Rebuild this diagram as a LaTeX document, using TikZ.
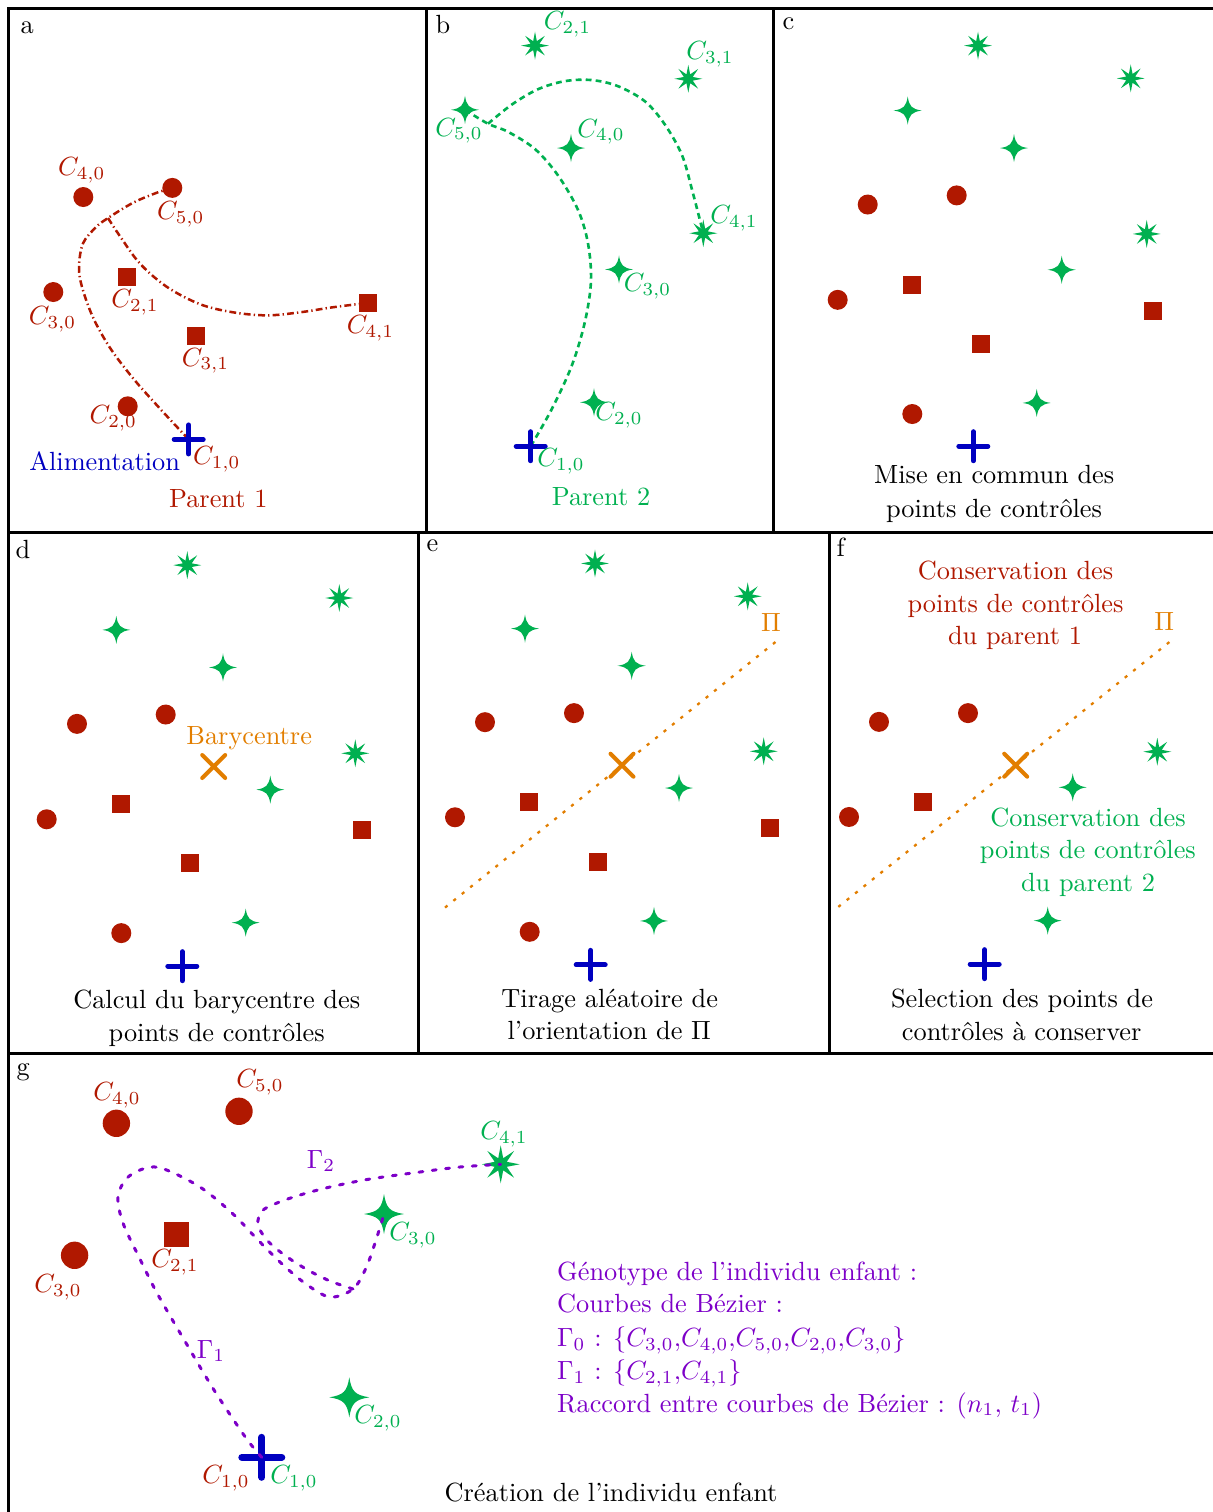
\documentclass[tikz,border=0pt]{standalone}
\usetikzlibrary{shapes.geometric}
\definecolor{cRed}{RGB}{176,24,0}
\definecolor{cGreen}{RGB}{0,176,80}
\definecolor{cBlue}{RGB}{0,0,192}
\definecolor{cOrange}{RGB}{226,126,0}
\definecolor{cPurple}{RGB}{125,0,200}
\tikzset{
  rdot/.style={circle, fill=cRed, inner sep=0pt, minimum size=7.6pt},
  rdotL/.style={circle, fill=cRed, inner sep=0pt, minimum size=10.4pt},
  rsq/.style={rectangle, fill=cRed, inner sep=0pt, minimum size=6.84pt},
  rsqL/.style={rectangle, fill=cRed, inner sep=0pt, minimum size=9.5pt},
  gstar/.style={star, star points=8, star point ratio=2.9, fill=cGreen, inner sep=0pt, minimum size=10.6pt},
  gstarL/.style={star, star points=8, star point ratio=2.9, fill=cGreen, inner sep=0pt, minimum size=14.4pt},
  lbl/.style={inner sep=0pt},
  lblr/.style={lbl, text=cRed},
  lblg/.style={lbl, text=cGreen},
  txt/.style={inner sep=0pt, anchor=base},
  panel/.style={inner sep=0pt, anchor=base west},
  frame/.style={line width=1.14pt},
  aCurve/.style={cRed, line width=0.95pt, dash pattern=on 2.6pt off 1.2pt on 0.5pt off 1.2pt},
  bCurve/.style={cGreen, line width=1pt, dash pattern=on 2.2pt off 1.6pt},
  oLine/.style={cOrange, line width=0.87pt, dash pattern=on 1.2pt off 2.9pt},
  gCurve/.style={cPurple, line width=1.14pt, line cap=round, dash pattern=on 1.5pt off 3.6pt},
  sparkle/.pic={\fill[cGreen] (0,-14) .. controls (1.6,-4) and (4,-1.6) .. (14,0) .. controls (4,1.6) and (1.6,4) .. (0,14) .. controls (-1.6,4) and (-4,1.6) .. (-14,0) .. controls (-4,-1.6) and (-1.6,-4) .. cycle;},
  sparkleL/.pic={\fill[cGreen] (0,-20) .. controls (2.3,-5.7) and (5.7,-2.3) .. (20,0) .. controls (5.7,2.3) and (2.3,5.7) .. (0,20) .. controls (-2.3,5.7) and (-5.7,2.3) .. (-20,0) .. controls (-5.7,-2.3) and (-2.3,-5.7) .. cycle;},
  bplus/.pic={\draw[cBlue, line width=1.9pt, line cap=round] (-14.5,0) -- (14.5,0) (0,-14.5) -- (0,14.5);},
  bplusL/.pic={\draw[cBlue, line width=2.66pt, line cap=round] (-20,0) -- (20,0) (0,-20) -- (0,20);},
  oX/.pic={\draw[cOrange, line width=1.52pt, line cap=round] (-11.5,-11.5) -- (11.5,11.5) (-11.5,11.5) -- (11.5,-11.5);}
}
\begin{document}
\begin{tikzpicture}[x=0.38pt, y=-0.38pt]
\useasboundingbox (0,0) rectangle (1212,1512);
% ---------- frames
\draw[frame] (8.5,1515) -- (8.5,8.5) -- (1215,8.5);
\draw[frame] (8.5,532) -- (1215,532);
\draw[frame] (8.5,1053.5) -- (1215,1053.5);
\draw[frame] (426.5,8.5) -- (426.5,532);
\draw[frame] (773.5,8.5) -- (773.5,532);
\draw[frame] (418.5,532) -- (418.5,1053.5);
\draw[frame] (829.5,532) -- (829.5,1053.5);

\begin{scope}[yscale=1.014]
% ================= panel a
\node[panel] (pa) at (20,33) {a};
\coordinate (a10) at (188.7,433.3);
\coordinate (aJ) at (108,215);
\node[rdot] (a40) at (83.3,194.3) {};
\node[rdot] (a50) at (172.3,185.3) {};
\node[rdot] (a30) at (53.3,288) {};
\node[rdot] (a20) at (127.7,400.7) {};
\node[rsq] (a21) at (127,273) {};
\node[rsq] (a31) at (196,331.3) {};
\node[rsq] (a41) at (368,298.7) {};
\draw[aCurve] plot[smooth, tension=0.55] coordinates {(a10) (160,403) (133,373) (110,343) (93,313) (82,283) (79,263) (83,240) (96,224) (aJ) (133,200) (157,190) (a50)};
\draw[aCurve] plot[smooth, tension=0.55] coordinates {(aJ) (120,233) (140,260) (167,283) (200,300) (233,308) (267,311) (300,308) (333,303) (a41)};
\pic at (a10) {bplus};
\node[lblr] (a40l) at (81.7,168.3) {$C_{4,0}$};
\node[lblr] (a50l) at (180.8,211.3) {$C_{5,0}$};
\node[lblr] (a21l) at (135,298.3) {$C_{2,1}$};
\node[lblr] (a30l) at (52.5,314.7) {$C_{3,0}$};
\node[lblr] (a41l) at (370.5,323.3) {$C_{4,1}$};
\node[lblr] (a31l) at (205.5,355.8) {$C_{3,1}$};
\node[lblr] (a20l) at (113.3,412.5) {$C_{2,0}$};
\node[lblr] (a10l) at (216.8,452.5) {$C_{1,0}$};
\node[txt, text=cBlue] (alim) at (104.7,464) {Alimentation};
\node[txt, text=cRed] (par1) at (218.3,500) {Parent 1};

% ================= panel b
\node[panel] (pb) at (435,33) {b};
\coordinate (b10) at (530.7,440);
\coordinate (bJ) at (488,122);
\coordinate (b50) at (465,108.3);
\coordinate (b40) at (571,146);
\coordinate (b30) at (619,265.7);
\coordinate (b20) at (594,396.7);
\node[gstar] (b21) at (535,45) {};
\node[gstar] (b31) at (688.3,77.7) {};
\node[gstar] (b41) at (703.3,230) {};
\draw[bCurve] plot[smooth, tension=0.55] coordinates {(b10) (552,403) (572,360) (585,317) (591,277) (588,240) (578,207) (558,173) (535,147) (508,130) (bJ) (b50)};
\draw[bCurve] plot[smooth, tension=0.55] coordinates {(bJ) (512,103) (538,88) (565,80) (592,79) (618,85) (645,100) (665,123) (682,153) (692,187) (b41)};
\pic at (b50) {sparkle};
\pic at (b40) {sparkle};
\pic at (b30) {sparkle};
\pic at (b20) {sparkle};
\pic at (b10) {bplus};
\node[lblg] (b21l) at (567.5,24) {$C_{2,1}$};
\node[lblg] (b31l) at (710,54) {$C_{3,1}$};
\node[lblg] (b50l) at (459,129) {$C_{5,0}$};
\node[lblg] (b40l) at (601,130) {$C_{4,0}$};
\node[lblg] (b41l) at (734,215) {$C_{4,1}$};
\node[lblg] (b30l) at (647.5,282) {$C_{3,0}$};
\node[lblg] (b20l) at (619,410) {$C_{2,0}$};
\node[lblg] (b10l) at (561,455) {$C_{1,0}$};
\node[txt, text=cGreen] (par2) at (601,499) {Parent 2};

% ================= panel c
\node[panel] (pc) at (782,29.3) {c};
\node[gstar] (c1) at (978,45) {};
\node[gstar] (c2) at (1130.7,77.3) {};
\node[gstar] (c3) at (1146.7,230.7) {};
\coordinate (c4) at (907.7,109);
\coordinate (c5) at (1014,146);
\coordinate (c6) at (1061.7,266);
\coordinate (c7) at (1036.7,397.3);
\pic at (c4) {sparkle};
\pic at (c5) {sparkle};
\pic at (c6) {sparkle};
\pic at (c7) {sparkle};
\node[rdot] (c8) at (867.7,201.7) {};
\node[rdot] (c9) at (956.7,192.7) {};
\node[rdot] (c10) at (837.7,295.7) {};
\node[rdot] (c11) at (912.3,408.3) {};
\node[rsq] (c12) at (912,281) {};
\node[rsq] (c13) at (981,339) {};
\node[rsq] (c14) at (1153,306.7) {};
\coordinate (cP) at (973.3,440);
\pic at (cP) {bplus};
\node[txt] (ct1) at (994.2,477.3) {Mise en commun des};
\node[txt] (ct2) at (994,510) {points de contrôles};
\end{scope}

\begin{scope}[shift={(0,530)}, yscale=1.0045, shift={(0,-530)}]
% ================= panel d
\node[panel] (pd) at (15,558.3) {d};
\node[gstar] (d1) at (187.3,565) {};
\node[gstar] (d2) at (339.3,597.7) {};
\node[gstar] (d3) at (355.3,752.3) {};
\coordinate (d4) at (116.3,629.3);
\coordinate (d5) at (223,666.7);
\coordinate (d6) at (270.3,788.3);
\coordinate (d7) at (245.7,920.7);
\pic at (d4) {sparkle};
\pic at (d5) {sparkle};
\pic at (d6) {sparkle};
\pic at (d7) {sparkle};
\node[rdot] (d8) at (77,723) {};
\node[rdot] (d9) at (165.7,713.7) {};
\node[rdot] (d10) at (46.7,818) {};
\node[rdot] (d11) at (121.3,931.3) {};
\node[rsq] (d12) at (120.7,802.3) {};
\node[rsq] (d13) at (190,861.3) {};
\node[rsq] (d14) at (362,828.7) {};
\coordinate (dP) at (182.3,964);
\pic at (dP) {bplus};
\coordinate (dX) at (213.7,765.3);
\pic at (dX) {oX};
\node[txt, text=cOrange] (bary) at (249.2,743.3) {Barycentre};
\node[txt] (dt1) at (216.7,1006.7) {Calcul du barycentre des};
\node[txt] (dt2) at (216.7,1039.5) {points de contrôles};

% ================= panel e
\node[panel] (pe) at (426,551.7) {e};
\coordinate (eL1) at (445,905.7);
\coordinate (eL2) at (779.3,638.3);
\draw[oLine] (eL1) -- (eL2);
\node[gstar] (e1) at (595,563.3) {};
\node[gstar] (e2) at (747.7,596) {};
\node[gstar] (e3) at (763.7,750.3) {};
\coordinate (e4) at (525,628);
\coordinate (e5) at (631.7,665);
\coordinate (e6) at (679,786.7);
\coordinate (e7) at (654,919);
\pic at (e4) {sparkle};
\pic at (e5) {sparkle};
\pic at (e6) {sparkle};
\pic at (e7) {sparkle};
\node[rdot] (e8) at (485,721.3) {};
\node[rdot] (e9) at (574,712.3) {};
\node[rdot] (e10) at (455,816) {};
\node[rdot] (e11) at (529.7,930) {};
\node[rsq] (e12) at (529,800.3) {};
\node[rsq] (e13) at (598,860.3) {};
\node[rsq] (e14) at (770,826.3) {};
\coordinate (eP) at (590.7,962.7);
\pic at (eP) {bplus};
\coordinate (eX) at (622,764);
\pic at (eX) {oX};
\node[txt, text=cOrange] (ePi) at (771,631) {$\Pi$};
\node[txt] (et1) at (609.7,1005) {Tirage aléatoire de};
\node[txt] (et2) at (609.3,1037.5) {l’orientation de $\Pi$};

% ================= panel f
\node[panel] (pf) at (836,556) {f};
\coordinate (fL1) at (838.3,905);
\coordinate (fL2) at (1173.3,638.3);
\draw[oLine] (fL1) -- (fL2);
\node[txt, text=cRed] (fr1) at (1015.5,579.3) {Conservation des};
\node[txt, text=cRed] (fr2) at (1015.5,611.7) {points de contrôles};
\node[txt, text=cRed] (fr3) at (1015,644.3) {du parent 1};
\node[txt, text=cOrange] (fPi) at (1164.3,630) {$\Pi$};
\node[rdot] (f1) at (879,721) {};
\node[rdot] (f2) at (968,712.3) {};
\node[rdot] (f3) at (849,815.7) {};
\node[rsq] (f4) at (923,800.3) {};
\coordinate (fX) at (1015.7,764);
\pic at (fX) {oX};
\node[gstar] (f5) at (1157.3,750.7) {};
\coordinate (f6) at (1072.7,786);
\coordinate (f7) at (1047.7,918.7);
\pic at (f6) {sparkle};
\pic at (f7) {sparkle};
\node[txt, text=cGreen] (fg1) at (1088,825) {Conservation des};
\node[txt, text=cGreen] (fg2) at (1087.8,857.3) {points de contrôles};
\node[txt, text=cGreen] (fg3) at (1088,890) {du parent 2};
\coordinate (fP) at (984.7,962);
\pic at (fP) {bplus};
\node[txt] (ft1) at (1022,1005.7) {Selection des points de};
\node[txt] (ft2) at (1021.7,1038) {contrôles à conserver};
\end{scope}

% ================= panel g
\node[panel] (pg) at (16,1075) {g};
\node[rdotL] (g40) at (116.4,1123.3) {};
\node[rdotL] (g50) at (239,1111.3) {};
\node[rdotL] (g30r) at (74.6,1255.3) {};
\node[rsqL] (g21) at (176.4,1234.3) {};
\node[gstarL] (g41) at (500.7,1164.3) {};
\coordinate (g30) at (384,1214);
\coordinate (g20) at (349.3,1397.3);
\coordinate (g10) at (261.8,1457.3);
\coordinate (gJ) at (353,1289);
\pic at (g30) {sparkleL};
\pic at (g20) {sparkleL};
\pic at (g10) {bplusL};
\draw[gCurve] plot[smooth, tension=0.55] coordinates {(g10) (246,1438) (214,1390) (186,1343) (157,1293) (139,1257) (123,1223) (118,1197) (127,1178) (146,1168) (164,1169) (200,1187) (232,1213) (257,1239) (281,1263) (306,1284) (330,1297) (gJ) (366,1268) (376,1240) (g30)};
\draw[gCurve] plot[smooth, tension=0.55] coordinates {(gJ) (330,1281) (306,1269) (283,1254) (266,1239) (258,1224) (262,1211) (277,1203) (300,1195) (330,1187) (370,1179) (420,1172) (460,1167) (g41)};
\node[lblr] (g40l) at (117,1095) {$C_{4,0}$};
\node[lblr] (g50l) at (260,1082) {$C_{5,0}$};
\node[lblr] (g30rl) at (58,1287) {$C_{3,0}$};
\node[lblr] (g21l) at (175,1262) {$C_{2,1}$};
\node[lblg] (g41l) at (504,1134) {$C_{4,1}$};
\node[lblg] (g30l) at (413,1235) {$C_{3,0}$};
\node[lblg] (g20l) at (378,1418) {$C_{2,0}$};
\node[lblr] (g10rl) at (226,1478) {$C_{1,0}$};
\node[lblg] (g10l) at (294,1478) {$C_{1,0}$};
\node[lbl, text=cPurple] (gam2) at (321,1161) {$\Gamma_2$};
\node[lbl, text=cPurple] (gam1) at (211,1351) {$\Gamma_1$};
\node[panel, text=cPurple] (gt1) at (556.7,1280.7) {Génotype de l’individu enfant :};
\node[panel, text=cPurple] (gt2) at (556.7,1312.7) {Courbes de Bézier :};
\node[panel, text=cPurple] (gt3) at (556.7,1346.3) {$\Gamma_0$ : $\{C_{3,0}{,}C_{4,0}{,}C_{5,0}{,}C_{2,0}{,}C_{3,0}\}$};
\node[panel, text=cPurple] (gt4) at (556.7,1379.5) {$\Gamma_1$ : $\{C_{2,1}{,}C_{4,1}\}$};
\node[panel, text=cPurple] (gt5) at (556.7,1412) {Raccord entre courbes de Bézier : $(n_1$, $t_1)$};
\node[txt] (gcap) at (611,1501.7) {Création de l’individu enfant};
\end{tikzpicture}
\end{document}
